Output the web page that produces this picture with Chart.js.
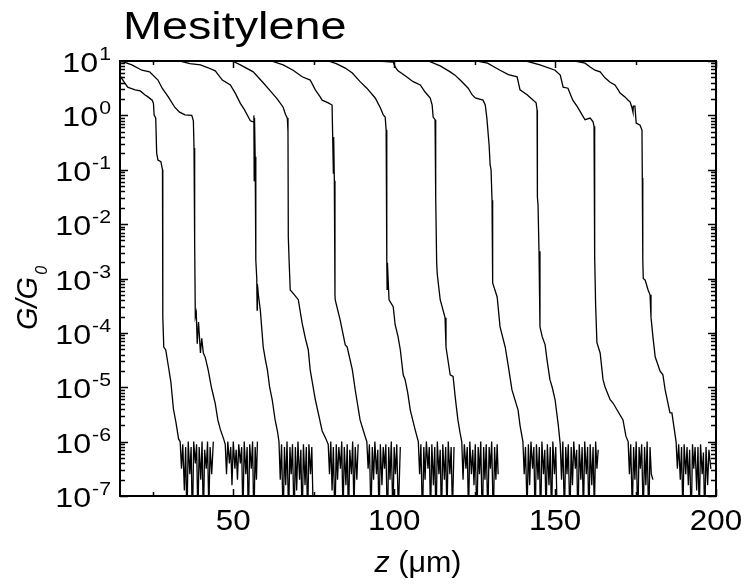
<!DOCTYPE html>
<html>
<head>
<meta charset="utf-8">
<script src="https://cdn.jsdelivr.net/npm/chart.js@4"></script>
<style>
  html, body { margin: 0; padding: 0; background: #fff; }
  #wrap { width: 745px; height: 585px; }
</style>
</head>
<body>
<div id="wrap"><canvas id="myChart" width="745" height="585"></canvas></div>
<script>
// Break-junction traces, each point is [z (um), log10(G/G0)]
var trace1 = [[14.9,0.72],[16.0,0.62],[17.2,0.52],[18.0,0.50],[19.5,0.47],[21.1,0.45],[22.5,0.38],[23.5,0.34],[24.8,0.28],[25.2,0.22],[25.4,0.01],[25.9,-0.05],[26.2,-0.7],[26.6,-0.82],[27.5,-0.85],[28.0,-1.0],[28.1,-3.71],[28.4,-4.26],[29.0,-4.31],[29.8,-4.6],[30.6,-4.9],[31.4,-5.4],[32.2,-5.65],[33.0,-5.95],
  [33.5,-6.0],[33.9,-6.5],[34.3,-6.05],[34.8,-6.9],[35.2,-6.1],[35.6,-7.5],[36.0,-6.0],[36.5,-6.6],[36.9,-6.1],[37.3,-7.6],[37.7,-6.0],[38.2,-6.4],[38.6,-6.05],[39.0,-7.4],[39.4,-6.1],[39.9,-6.7],[40.3,-6.0],[40.7,-7.5],[41.1,-6.15],[41.6,-6.5],[42.0,-6.0],[42.4,-7.3],[42.8,-6.1],[43.3,-6.6],[43.8,-6.0]];
var trace2 = [[14.9,1.0],[16.5,0.97],[18.5,0.93],[21.6,0.83],[24.0,0.80],[26.6,0.65],[27.9,0.50],[29.8,0.34],[31.8,0.15],[33.3,0.06],[35.0,0.01],[37.1,0.0],[37.6,-0.1],[37.8,-0.6],[38.0,-2.35],[38.2,-3.71],[38.5,-3.63],[38.8,-4.2],[39.2,-3.8],[39.8,-4.37],[40.2,-4.1],[40.7,-4.37],[41.3,-4.45],[42.2,-4.68],[43.2,-5.0],[44.4,-5.3],[45.2,-5.6],[46.0,-5.78],[47.0,-5.95],
  [47.5,-6.05],[47.9,-6.6],[48.3,-6.0],[48.8,-6.4],[49.2,-6.1],[49.6,-6.8],[50.0,-6.0],[50.5,-6.5],[50.9,-6.15],[51.3,-6.7],[51.7,-6.05],[52.2,-6.4],[52.6,-6.1],[53.0,-7.4],[53.4,-6.0],[53.9,-6.6],[54.3,-6.1],[54.7,-7.5],[55.1,-6.05],[55.6,-6.5],[56.0,-6.0],[56.4,-7.6],[56.8,-6.1],[57.2,-6.7],[57.5,-6.0]];
var trace3 = [[33.5,1.0],[36.5,0.95],[39.8,0.93],[42.0,0.88],[44.4,0.82],[46.6,0.65],[49.1,0.56],[50.7,0.40],[52.2,0.22],[53.5,0.10],[55.3,-0.1],[56.2,-0.12],[56.4,0.0],[56.5,-1.2],[56.6,-0.05],[56.8,-0.76],[57.0,-2.66],[57.3,-3.0],[57.4,-3.58],[57.5,-3.1],[57.8,-3.3],[58.4,-3.58],[59.3,-4.26],[60.0,-4.5],[60.6,-4.68],[61.3,-5.0],[62.1,-5.23],[63.0,-5.6],[63.7,-5.8],
  [64.2,-6.0],[64.6,-6.7],[65.0,-6.05],[65.5,-7.5],[65.9,-6.1],[66.3,-6.8],[66.7,-6.0],[67.2,-7.4],[67.6,-6.1],[68.0,-6.6],[68.4,-6.05],[68.9,-7.5],[69.3,-6.1],[69.7,-6.9],[70.1,-6.0],[70.6,-6.7],[71.0,-6.15],[71.4,-7.6],[71.8,-6.05],[72.3,-6.8],[72.7,-6.1],[73.1,-7.5],[73.5,-6.05],[74.0,-6.6],[74.4,-6.1],[74.8,-7.2]];
var trace4 = [[49.7,1.0],[52.2,0.93],[56.2,0.80],[59.3,0.60],[61.5,0.45],[63.7,0.30],[65.5,0.15],[66.2,0.02],[66.8,-0.05],[67.0,-0.3],[67.1,-2.24],[67.4,-2.75],[67.7,-3.21],[69.0,-3.3],[70.2,-3.39],[71.4,-3.82],[72.4,-4.1],[73.3,-4.31],[73.9,-4.68],[75.5,-5.23],[76.4,-5.47],[77.6,-5.8],[78.8,-5.95],
  [79.5,-6.05],[79.9,-6.6],[80.3,-6.0],[80.7,-6.9],[81.1,-6.1],[81.6,-7.5],[82.0,-6.05],[82.4,-6.7],[82.8,-6.1],[83.3,-6.5],[83.7,-6.0],[84.1,-7.4],[84.5,-6.1],[85.0,-6.8],[85.4,-6.05],[85.8,-7.5],[86.2,-6.15],[86.7,-6.6],[87.1,-6.0],[87.5,-7.3],[87.9,-6.1],[88.4,-6.7],[88.8,-6.05]];
var trace5 = [[61.8,1.0],[65.5,0.93],[68.6,0.83],[71.4,0.71],[73.9,0.65],[75.5,0.47],[77.0,0.34],[77.6,0.28],[79.5,0.23],[80.7,0.19],[81.1,-1.06],[81.2,-0.4],[81.4,-1.2],[81.6,-3.3],[81.7,-3.4],[83.2,-3.76],[84.8,-4.22],[85.4,-4.26],[87.0,-4.68],[87.9,-5.05],[89.4,-5.6],[91.0,-5.91],
  [91.5,-6.0],[91.9,-6.5],[92.3,-6.05],[92.8,-7.4],[93.2,-6.1],[93.6,-6.7],[94.0,-6.0],[94.5,-6.6],[94.9,-6.15],[95.3,-7.5],[95.7,-6.05],[96.2,-6.8],[96.6,-6.1],[97.0,-6.5],[97.4,-6.05],[97.9,-7.6],[98.3,-6.1],[98.7,-6.7],[99.1,-6.0],[99.6,-7.4],[100.0,-6.1],[100.4,-6.6],[100.8,-6.05],[101.3,-7.3],[101.9,-6.1]];
var trace6 = [[79.5,1.0],[82.0,0.95],[84.8,0.87],[87.0,0.78],[89.4,0.62],[91.5,0.50],[94.1,0.32],[95.7,0.14],[96.6,0.01],[97.2,-0.03],[97.5,-0.27],[97.7,-2.66],[97.8,-3.2],[97.9,-2.71],[98.4,-3.39],[99.7,-3.52],[100.3,-3.85],[101.2,-4.07],[101.9,-4.31],[102.8,-4.77],[103.4,-4.86],[104.2,-5.1],[105.0,-5.42],[106.5,-5.78],
  [107.5,-6.0],[107.9,-6.6],[108.3,-6.05],[108.8,-7.5],[109.2,-6.1],[109.6,-6.7],[110.0,-6.0],[110.5,-6.5],[110.9,-6.1],[111.3,-7.4],[111.7,-6.05],[112.2,-6.8],[112.6,-6.1],[113.0,-7.6],[113.4,-6.0],[113.9,-6.6],[114.3,-6.15],[114.7,-7.5],[115.1,-6.05],[115.6,-6.7],[116.0,-6.1],[116.4,-7.4],[116.8,-6.0],[117.3,-6.6],[117.7,-6.1],[118.1,-7.3],[118.6,-6.1]];
var trace7 = [[91.0,1.02],[95.0,1.0],[99.7,0.98],[100.3,0.89],[101.2,0.82],[103.4,0.73],[105.9,0.62],[108.1,0.56],[109.6,0.43],[111.2,0.32],[111.8,0.19],[112.1,-0.03],[112.7,-0.08],[112.9,-1.5],[113.2,-2.71],[113.4,-2.93],[114.3,-3.39],[115.8,-3.72],[116.1,-4.26],[117.4,-4.77],[118.3,-4.8],[119.0,-5.2],[119.8,-5.6],[120.5,-5.85],
  [121.0,-6.0],[121.4,-6.7],[121.8,-6.05],[122.3,-6.5],[122.7,-6.1],[123.1,-7.4],[123.5,-6.0],[124.0,-6.6],[124.4,-6.15],[124.8,-6.8],[125.2,-6.05],[125.7,-7.5],[126.1,-6.1],[126.5,-6.6],[126.9,-6.0],[127.4,-7.6],[127.8,-6.1],[128.2,-6.7],[128.6,-6.05],[129.1,-7.4],[129.5,-6.1],[129.9,-6.5],[130.3,-6.0],[130.8,-7.5],[131.2,-6.1],[131.6,-6.7],[132.0,-6.05],[132.3,-6.6]];
var trace8 = [[110.6,1.0],[114.3,0.91],[117.4,0.80],[118.9,0.74],[120.5,0.65],[123.0,0.50],[124.2,0.38],[125.2,0.32],[127.6,0.28],[128.3,0.19],[128.8,-0.05],[129.5,-0.55],[129.8,-0.9],[130.1,-1.0],[130.4,-1.56],[130.5,-3.03],[130.7,-3.08],[132.0,-3.34],[132.9,-3.89],[134.5,-4.26],[135.4,-4.59],[136.6,-5.05],[138.5,-5.42],[139.1,-5.7],
  [140.0,-6.0],[140.4,-6.6],[140.8,-6.1],[141.3,-7.3],[141.7,-6.05],[142.1,-6.8],[142.5,-6.0],[143.0,-6.5],[143.4,-6.1],[143.8,-7.5],[144.2,-6.05],[144.7,-6.7],[145.1,-6.1],[145.5,-7.6],[145.9,-6.0],[146.4,-6.6],[146.8,-6.15],[147.2,-7.4],[147.6,-6.05],[148.1,-6.8],[148.5,-6.1],[148.9,-7.5],[149.3,-6.0],[149.8,-6.6],[150.2,-6.1],[150.6,-7.2]];
var trace9 = [[125.8,1.0],[129.0,0.96],[132.9,0.83],[135.5,0.75],[138.2,0.71],[139.1,0.47],[141.3,0.38],[143.2,0.28],[144.1,0.23],[144.4,0.1],[144.5,-1.5],[144.7,-1.65],[145.0,-2.5],[145.3,-3.89],[146.0,-4.07],[146.9,-4.22],[147.5,-4.5],[148.4,-4.86],[149.1,-5.0],[150.0,-5.23],[151.0,-5.7],
  [151.6,-6.05],[152.0,-6.7],[152.4,-6.0],[152.9,-7.4],[153.3,-6.1],[153.7,-6.6],[154.1,-6.05],[154.6,-7.5],[155.0,-6.1],[155.4,-6.8],[155.8,-6.0],[156.3,-6.5],[156.7,-6.15],[157.1,-7.6],[157.5,-6.05],[158.0,-6.7],[158.4,-6.1],[158.8,-7.4],[159.2,-6.0],[159.7,-6.6],[160.1,-6.1],[160.5,-7.5],[160.9,-6.05],[161.4,-6.8],[161.8,-6.1],[162.2,-7.3],[162.6,-6.0],[163.0,-6.5],[163.4,-6.15]];
var trace10 = [[141.0,1.0],[145.3,0.93],[150.0,0.83],[151.6,0.74],[152.5,0.52],[154.0,0.50],[155.5,0.28],[157.0,0.15],[158.4,0.01],[159.3,-0.08],[160.9,-0.05],[161.8,-0.12],[162.1,-0.2],[162.2,-2.57],[162.3,-2.66],[162.4,-2.6],[162.6,-3.5],[163.0,-4.18],[164.0,-4.37],[164.9,-4.86],[165.5,-4.99],[167.1,-5.23],[168.0,-5.29],[171.1,-5.6],[172.0,-5.9],
  [172.7,-6.0],[173.1,-6.6],[173.5,-6.05],[174.0,-7.3],[174.4,-6.1],[174.8,-6.7],[175.2,-6.0],[175.7,-7.5],[176.1,-6.1],[176.5,-6.5],[176.9,-6.05],[177.4,-7.4],[177.8,-6.1],[178.2,-6.8],[178.6,-6.0],[179.1,-7.5],[179.5,-6.1],[179.9,-6.6],[180.4,-6.7]];
var trace11 = [[156.2,1.0],[159.3,0.96],[160.9,0.89],[162.4,0.83],[164.0,0.80],[165.5,0.69],[167.1,0.61],[168.6,0.56],[169.6,0.47],[170.2,0.41],[171.7,0.34],[172.7,0.28],[173.3,0.25],[173.9,0.14],[174.2,0.06],[174.3,0.17],[174.8,0.17],[175.2,-0.14],[176.4,-0.18],[177.0,-0.27],[177.1,-1.15],[177.2,-2.51],[177.3,-2.66],[177.4,-3.0],[178.0,-3.03],[178.9,-3.21],[179.5,-3.3],[179.8,-3.71],[180.4,-4.07],[181.1,-4.44],[182.6,-4.7],[183.5,-4.77],[184.2,-5.05],[185.7,-5.47],[186.3,-5.47],[187.3,-5.88],
  [187.6,-6.0],[188.0,-6.5],[188.4,-6.05],[188.9,-6.7],[189.3,-6.1],[189.7,-7.4],[190.1,-6.05],[190.6,-6.6],[191.0,-6.1],[191.4,-6.8],[191.8,-6.15],[192.3,-7.5],[192.7,-6.05],[193.1,-6.5],[193.5,-6.1],[194.0,-6.9],[194.4,-6.1],[194.8,-7.4],[195.2,-6.05],[195.7,-6.6],[196.1,-6.2],[196.5,-7.5],[196.9,-6.1],[197.4,-6.8],[197.8,-6.15],[198.4,-6.5]];

var traces = [trace1, trace2, trace3, trace4, trace5, trace6, trace7, trace8, trace9, trace10, trace11];

// Axis ticks
var xMajorTicks = [50, 100, 150, 200];
var xMinorTicks = [25, 75, 125, 175];
var yDecades = [-7, -6, -5, -4, -3, -2, -1, 0, 1];
var xMin = 14.8, xMax = 200;

var FONT = '"Liberation Sans", Arial, sans-serif';

function stretchText(ctx, text, x, y, font, align, sx) {
    ctx.save();
    ctx.font = font;
    ctx.translate(x, y);
    ctx.scale(sx, 1);
    ctx.textAlign = align;
    ctx.textBaseline = 'alphabetic';
    ctx.fillText(text, 0, 0);
    ctx.restore();
}

var framePlugin = {
    id: 'frame',
    beforeDraw: function(chart) {
        var ctx = chart.ctx;
        ctx.save();
        ctx.fillStyle = '#fff';
        ctx.fillRect(0, 0, chart.width, chart.height);
        ctx.restore();
    },
    afterDraw: function(chart) {
        var ctx = chart.ctx;
        var a = chart.chartArea;
        var xs = chart.scales.x, ys = chart.scales.y;
        ctx.save();
        ctx.strokeStyle = '#000';
        ctx.fillStyle = '#000';

        // ticks
        ctx.lineWidth = 1.5;
        ctx.beginPath();
        yDecades.forEach(function(d) {
            var py = Math.round(ys.getPixelForValue(Math.pow(10, d))) + 0.5;
            ctx.moveTo(a.left, py); ctx.lineTo(a.left + 8, py);
            ctx.moveTo(a.right, py); ctx.lineTo(a.right - 8, py);
            if (d < 1) {
                for (var k = 2; k <= 9; k++) {
                    var pm = Math.round(ys.getPixelForValue(k * Math.pow(10, d))) + 0.5;
                    ctx.moveTo(a.left, pm); ctx.lineTo(a.left + 5, pm);
                    ctx.moveTo(a.right, pm); ctx.lineTo(a.right - 5, pm);
                }
            }
        });
        xMajorTicks.forEach(function(v) {
            var px = Math.round(xs.getPixelForValue(v)) + 0.5;
            ctx.moveTo(px, a.bottom); ctx.lineTo(px, a.bottom - 7);
            ctx.moveTo(px, a.top); ctx.lineTo(px, a.top + 7);
        });
        xMinorTicks.forEach(function(v) {
            var px = Math.round(xs.getPixelForValue(v)) + 0.5;
            ctx.moveTo(px, a.bottom); ctx.lineTo(px, a.bottom - 4);
            ctx.moveTo(px, a.top); ctx.lineTo(px, a.top + 4);
        });
        ctx.stroke();

        // frame
        ctx.lineWidth = 2;
        ctx.strokeRect(a.left, a.top, a.right - a.left, a.bottom - a.top);

        // y tick labels: 10 with superscript exponent
        yDecades.forEach(function(d) {
            var py = ys.getPixelForValue(Math.pow(10, d));
            var exp = String(d);
            ctx.font = '19px ' + FONT;
            var ew = ctx.measureText(exp).width * 1.12;
            var right = a.left - 9;
            stretchText(ctx, exp, right - ew, py - 1, '19px ' + FONT, 'left', 1.12);
            stretchText(ctx, '10', right - ew - 1, py + 11, '28px ' + FONT, 'right', 1.15);
        });

        // x tick labels
        xMajorTicks.forEach(function(v) {
            var px = xs.getPixelForValue(v);
            stretchText(ctx, String(v), px, a.bottom + 34, '29px ' + FONT, 'center', 1.08);
        });

        // x axis title: z (um)
        var cx = (a.left + a.right) / 2;
        ctx.font = 'italic 29px ' + FONT;
        var zw = ctx.measureText('z').width * 1.05;
        ctx.font = '29px ' + FONT;
        var rw = ctx.measureText(' (\u03bcm)').width * 1.05;
        var startX = cx - (zw + rw) / 2;
        stretchText(ctx, 'z', startX, 572, 'italic 29px ' + FONT, 'left', 1.05);
        stretchText(ctx, ' (\u03bcm)', startX + zw, 572, '29px ' + FONT, 'left', 1.05);

        // y axis title: G/G0
        ctx.save();
        ctx.translate(37, 330);
        ctx.rotate(-Math.PI / 2);
        ctx.font = 'italic 29px ' + FONT;
        ctx.textAlign = 'left';
        ctx.textBaseline = 'alphabetic';
        ctx.fillText('G/G', 0, 0);
        var gw = ctx.measureText('G/G').width;
        ctx.font = 'italic 16px ' + FONT;
        ctx.fillText('0', gw + 2, 10);
        ctx.restore();

        // title
        stretchText(ctx, 'Mesitylene', 123, 39, '38px ' + FONT, 'left', 1.23);

        ctx.restore();
    }
};

var ctx = document.getElementById('myChart');
var myChart = new Chart(ctx, {
    type: 'line',
    data: {
        datasets: traces.map(function(t) {
            return {
                data: t.map(function(p) { return { x: p[0], y: Math.pow(10, p[1]) }; }),
                borderColor: '#000',
                backgroundColor: '#000',
                borderWidth: 1.3,
                pointRadius: 0,
                tension: 0,
                fill: false
            };
        })
    },
    options: {
        responsive: false,
        animation: false,
        devicePixelRatio: 1,
        layout: { padding: { left: 120, right: 29, top: 61, bottom: 89 } },
        plugins: {
            legend: { display: false },
            title: { display: false },
            tooltip: { enabled: false }
        },
        scales: {
            x: { type: 'linear', min: xMin, max: xMax, display: false },
            y: { type: 'logarithmic', min: 1e-7, max: 10, display: false }
        }
    },
    plugins: [framePlugin]
});
</script>
</body>
</html>
